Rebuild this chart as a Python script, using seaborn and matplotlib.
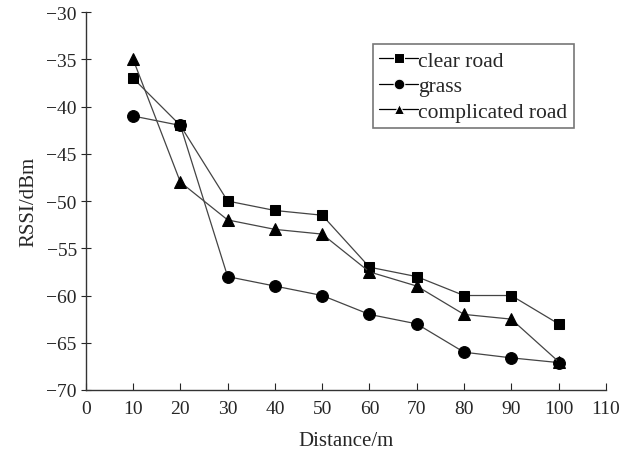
import pandas as pd
import seaborn as sns
import matplotlib.pyplot as plt

distance = [10, 20, 30, 40, 50, 60, 70, 80, 90, 100]
clear_road = [-37, -42, -50, -51, -51.5, -57, -58, -60, -60, -63]
grass = [-41, -42, -58, -59, -60, -62, -63, -66, -66.6, -67.1]
complicated_road = [-35, -48, -52, -53, -53.5, -57.5, -59, -62, -62.5, -67]
series_names = ['clear road', 'grass', 'complicated road']

df = pd.DataFrame({
    'Distance': distance * 3,
    'RSSI': clear_road + grass + complicated_road,
    'Surface': sum([[n] * len(distance) for n in series_names], []),
})

sns.set_style("ticks")
plt.rcParams['font.family'] = ['Liberation Serif', 'DejaVu Serif']
plt.rcParams['axes.unicode_minus'] = True

fig = plt.figure(figsize=(6.22, 4.52), dpi=100)
ax = fig.add_axes([0.138, 0.135, 0.836, 0.836])

sns.lineplot(
    data=df, x='Distance', y='RSSI', hue='Surface', style='Surface',
    markers=['s', 'o', '^'], dashes=False, markersize=9,
    palette=['#444444'] * 3, linewidth=0.9, ax=ax,
)
# squares look smaller than the circles/triangles in the original
sizes = [7, 8.5, 9]
for line, ms in zip(ax.lines, sizes):
    line.set_markerfacecolor('black')
    line.set_markeredgecolor('black')
    line.set_markersize(ms)

ax.set_xlim(0, 110)
ax.set_ylim(-70, -30)
ax.set_xticks(range(0, 111, 10))
ax.set_yticks(range(-70, -29, 5))
ax.set_xlabel('Distance/m', fontsize=15, labelpad=10)
ax.set_ylabel('RSSI/dBm', fontsize=15, labelpad=6)
ax.tick_params(axis='x', direction='in', length=5, labelsize=14, pad=7)
ax.tick_params(axis='y', direction='inout', length=7, labelsize=14, pad=3)
for s in ['top', 'right']:
    ax.spines[s].set_visible(False)
for s in ['left', 'bottom']:
    ax.spines[s].set_color('#333333')
    ax.spines[s].set_linewidth(1.0)

leg = ax.legend(
    title=None, loc='upper right', bbox_to_anchor=(0.938, 0.915),
    borderaxespad=0, fontsize=15.5, frameon=True, fancybox=False,
    handlelength=1.8, handletextpad=0.0, borderpad=0.3, labelspacing=0.25,
    markerscale=0.85,
)
for h in leg.get_lines():
    h.set_color('black')
leg.get_frame().set_edgecolor('#555555')
leg.get_frame().set_linewidth(1.2)

fig.savefig('out.png', dpi=100)
